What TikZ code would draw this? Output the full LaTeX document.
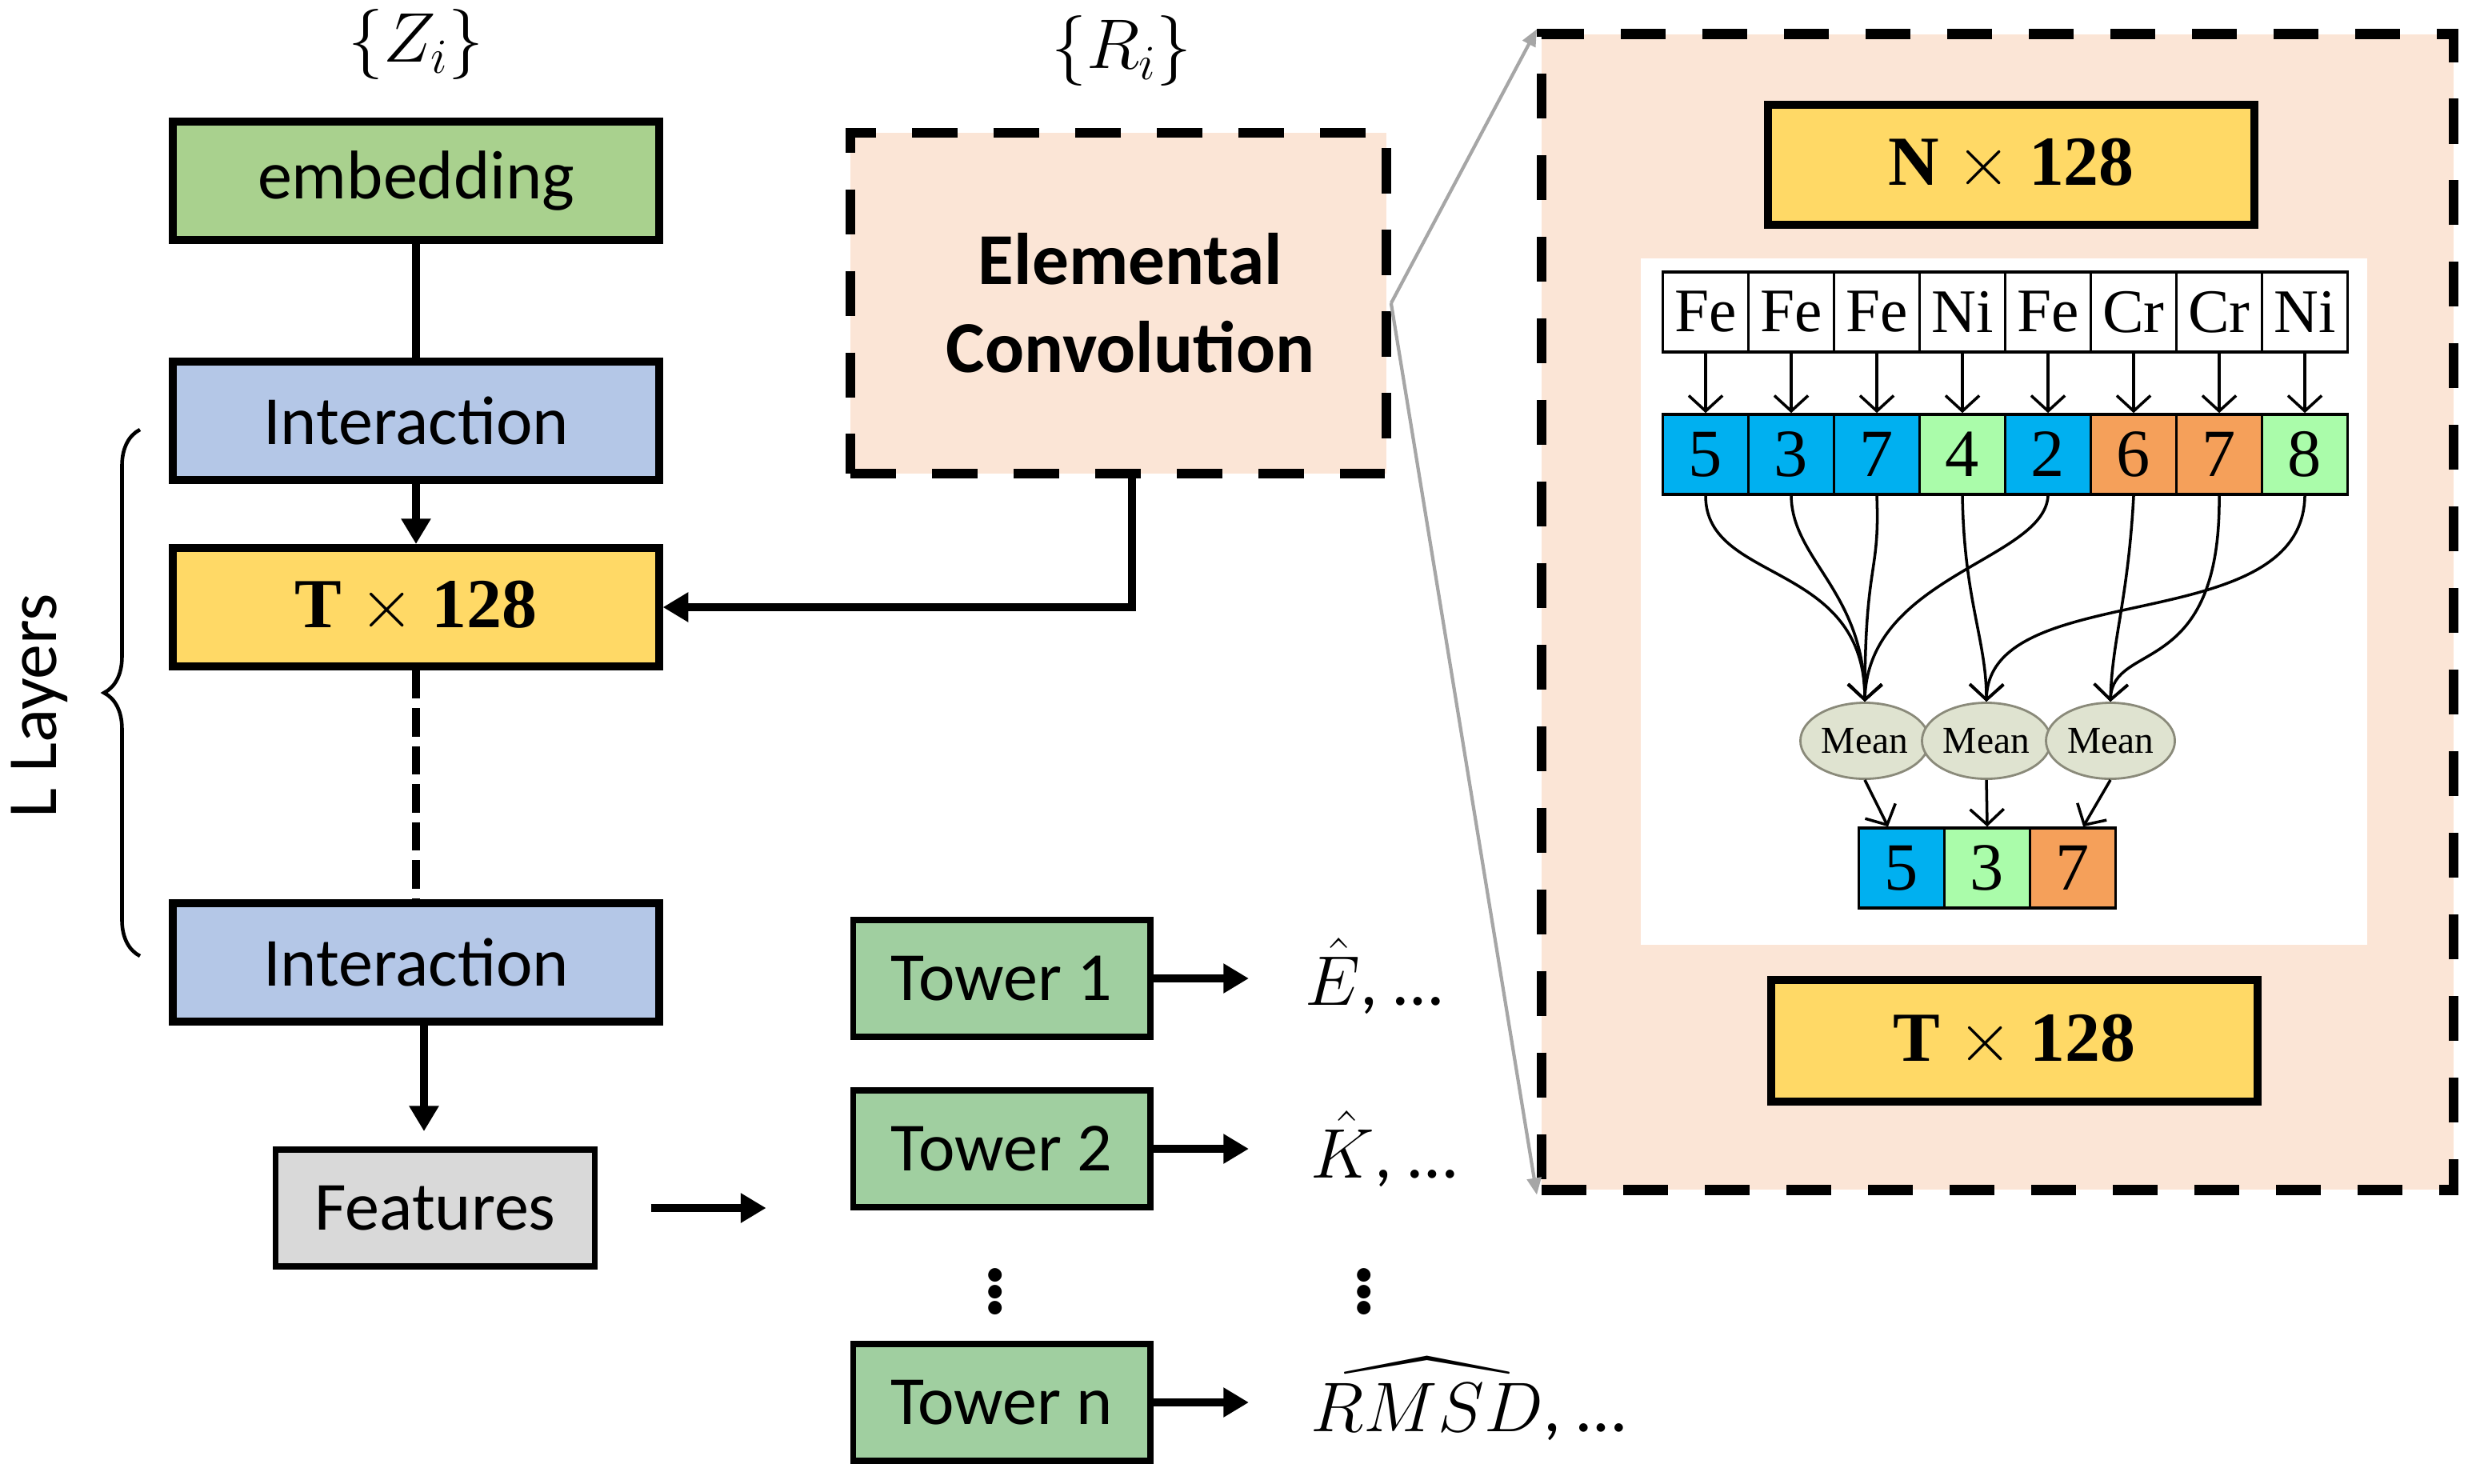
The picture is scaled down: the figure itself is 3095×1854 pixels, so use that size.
\documentclass[tikz,border=0pt]{standalone}
\usepackage{fix-cm}
\usepackage{fontspec}
\setmainfont{Carlito}
\newfontfamily\tms{Liberation Serif}
\usepackage{amsmath, amssymb}
\usetikzlibrary{arrows.meta, decorations.pathreplacing, shapes.geometric}

\definecolor{embgreen}{HTML}{A9D18E}
\definecolor{intblue}{HTML}{B4C7E7}
\definecolor{dimyellow}{HTML}{FFD966}
\definecolor{featgray}{HTML}{D9D9D9}
\definecolor{towergreen}{HTML}{A0CFA0}
\definecolor{peach}{HTML}{FBE5D6}
\definecolor{cellblue}{HTML}{00B0F0}
\definecolor{cellgreen}{HTML}{AAFCAA}
\definecolor{cellorange}{HTML}{F5A05A}
\definecolor{meanfill}{HTML}{DFE3D0}
\definecolor{meanline}{HTML}{8A8A7A}
\definecolor{arrowgray}{HTML}{A6A6A6}

\begin{document}
\begin{tikzpicture}[x=0.01cm, y=-0.01cm,
  >={Triangle[length=9pt,width=10pt]},
  block/.style={draw, line width=2.8pt, minimum width=6.07cm, minimum height=1.48cm, inner sep=0pt, font=\fontsize{24.5}{29}\selectfont},
  tower/.style={draw, line width=2.2pt, fill=towergreen, minimum width=3.71cm, minimum height=1.46cm, inner sep=0pt, font=\fontsize{24.5}{29}\selectfont},
  dimbox/.style={draw, line width=2.8pt, fill=dimyellow, minimum width=6.07cm, minimum height=1.5cm, inner sep=0pt, font=\tms\bfseries\fontsize{25}{30}\selectfont},
  dashbox/.style={draw, line width=3.5pt, dash pattern=on 16pt off 13pt, fill=peach},
  mathlabel/.style={inner sep=0pt, font=\fontsize{25}{30}\selectfont},
  elcell/.style={draw, line width=1pt, fill=white, minimum width=1.07cm, minimum height=1cm, inner sep=0pt, font=\tms\fontsize{22}{26}\selectfont},
  numcell/.style={draw, line width=1pt, minimum width=1.07cm, minimum height=1cm, inner sep=0pt, font=\tms\fontsize{24}{28}\selectfont},
  mean/.style={ellipse, draw=meanline, line width=0.8pt, fill=meanfill, minimum width=1.61cm, minimum height=0.95cm, inner sep=0pt, font=\tms\fontsize{13.5}{16}\selectfont},
  flow/.style={line width=1pt, -{Straight Barb[length=5.5pt,width=12pt]}},
  link/.style={line width=2.8pt},
  zoomline/.style={draw=arrowgray, line width=1.2pt, -{Triangle[length=6pt,width=5pt]}}]

\useasboundingbox (0,0) rectangle (3095,1854);

% inset with the convolution
\node[dashbox, minimum width=11.39cm, minimum height=14.44cm] (inset) at (2497,765) {};
\node[fill=white, minimum width=9.07cm, minimum height=8.58cm] (panel) at (2505,752) {};
\node[dimbox] (nx) at (2514,206) {N $\times$ 128};
\node[dimbox, minimum height=1.52cm] (tx2) at (2518,1301) {T $\times$ 128};

\node[elcell] (el1) at (2132,390) {Fe};
\node[elcell] (el2) at (2239,390) {Fe};
\node[elcell] (el3) at (2346,390) {Fe};
\node[elcell] (el4) at (2453,390) {Ni};
\node[elcell] (el5) at (2560,390) {Fe};
\node[elcell] (el6) at (2667,390) {Cr};
\node[elcell] (el7) at (2774,390) {Cr};
\node[elcell] (el8) at (2881,390) {Ni};

\node[numcell, fill=cellblue] (num1) at (2132,568) {5};
\node[numcell, fill=cellblue] (num2) at (2239,568) {3};
\node[numcell, fill=cellblue] (num3) at (2346,568) {7};
\node[numcell, fill=cellgreen] (num4) at (2453,568) {4};
\node[numcell, fill=cellblue] (num5) at (2560,568) {2};
\node[numcell, fill=cellorange] (num6) at (2667,568) {6};
\node[numcell, fill=cellorange] (num7) at (2774,568) {7};
\node[numcell, fill=cellgreen] (num8) at (2881,568) {8};

\node[mean] (mean1) at (2331,926) {Mean};
\node[mean] (mean2) at (2483,926) {Mean};
\node[mean] (mean3) at (2638,926) {Mean};

\node[numcell, fill=cellblue] (res1) at (2377,1085) {5};
\node[numcell, fill=cellgreen] (res2) at (2484,1085) {3};
\node[numcell, fill=cellorange] (res3) at (2591,1085) {7};

\draw[flow] (el1) -- (num1);
\draw[flow] (el2) -- (num2);
\draw[flow] (el3) -- (num3);
\draw[flow] (el4) -- (num4);
\draw[flow] (el5) -- (num5);
\draw[flow] (el6) -- (num6);
\draw[flow] (el7) -- (num7);
\draw[flow] (el8) -- (num8);

\draw[flow] (num1.south) .. controls (2132,730) and (2331,700) .. (mean1.north);
\draw[flow] (num2.south) .. controls (2240,700) and (2331,740) .. (mean1.north);
\draw[flow] (num3.south) .. controls (2350,720) and (2331,700) .. (mean1.north);
\draw[flow] (num5.south) .. controls (2555,700) and (2335,720) .. (mean1.north);
\draw[flow] (num4.south) .. controls (2455,750) and (2483,800) .. (mean2.north);
\draw[flow] (num8.south) .. controls (2878,800) and (2486,720) .. (mean2.north);
\draw[flow] (num6.south) .. controls (2660,750) and (2640,800) .. (mean3.north);
\draw[flow] (num7.south) .. controls (2776,850) and (2641,800) .. (mean3.north);

\draw[flow] (mean1.south) -- ([xshift=-0.17cm]res1.north);
\draw[flow] (mean2.south) -- (res2.north);
\draw[flow] (mean3.south) -- ([xshift=0.13cm]res3.north);

% main network
\node[mathlabel] (zi) at (520,56) {$\{Z_i\}$};
\node[mathlabel] (ri) at (1402,64) {$\{R_i\}$};
\node[block, fill=embgreen] (emb) at (520,226) {embedding};
\node[block, fill=intblue] (int1) at (520,526) {Interaction};
\node[dimbox, minimum height=1.48cm] (tx) at (520,759) {T $\times$ 128};
\node[block, fill=intblue] (int2) at (520,1203) {Interaction};
\node[block, fill=featgray, line width=2.2pt, minimum width=3.99cm, minimum height=1.46cm] (feat) at (544,1510) {Features};
\node[rotate=90, font=\fontsize{25}{30}\selectfont] (layers) at (49,882) {L Layers};

\node[dashbox, minimum width=6.69cm, minimum height=4.26cm, align=center, font=\bfseries\fontsize{26}{31.3}\selectfont] (conv) at (1398,379) {\hspace*{0.3cm}Elemental\\\hspace*{0.3cm}Convolution};

\node[tower] (tw1) at (1252,1223) {Tower 1};
\node[tower] (tw2) at (1252,1436) {Tower 2};
\node[tower] (twn) at (1252,1753) {Tower n};

\node[mathlabel, anchor=base west] (out1) at (1631,1256) {$\hat{E}$, …};
\node[mathlabel, anchor=base west] (out2) at (1638,1472) {$\hat{K}$, …};
\node[mathlabel, anchor=base west] (outn) at (1638,1789) {$\widehat{RMSD}$, …};
\node[inner sep=0pt, font=\fontsize{40}{48}\selectfont] (vd1) at (1244,1604) {$\vdots$};
\node[inner sep=0pt, font=\fontsize{40}{48}\selectfont] (vd2) at (1705,1604) {$\vdots$};

\draw[link] (emb) -- (int1);
\draw[link, ->] (int1) -- (tx);
\draw[link, dash pattern=on 10pt off 3.5pt] (tx) -- (int2);
\draw[link, ->] ([xshift=0.1cm]int2.south) -- ([xshift=-0.14cm, yshift=0.19cm]feat.north);
\draw[link, ->] ([xshift=0.17cm]conv.south) |- (tx.east);

\coordinate (fa) at ([xshift=0.66cm]feat.east);
\coordinate (fb) at ([xshift=2.1cm]feat.east);
\draw[link, ->] (fa) -- (fb);

\draw[link, ->, shorten >=0.7cm] (tw1.east) -- (tw1.east -| out1.west);
\draw[link, ->, shorten >=0.77cm] (tw2.east) -- (tw2.east -| out2.west);
\draw[link, ->, shorten >=0.77cm] (twn.east) -- (twn.east -| outn.west);

\draw[line width=1.3pt, decorate, decoration={brace, amplitude=0.45cm}] (175,1195) -- (175,537);

\draw[zoomline] (conv.east) -- (inset.north west);
\draw[zoomline] (conv.east) -- (inset.south west);

\end{tikzpicture}
\end{document}
